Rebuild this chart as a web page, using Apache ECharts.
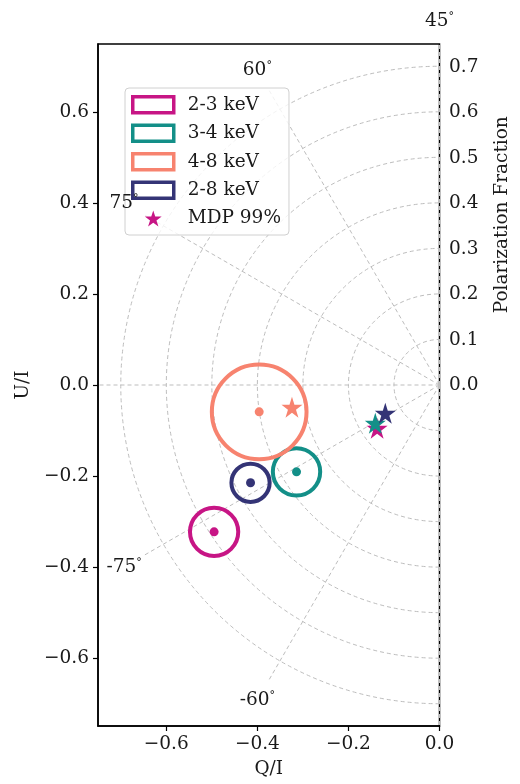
<!DOCTYPE html>
<html><head><meta charset="utf-8">
<script src="https://cdn.jsdelivr.net/npm/echarts@6/dist/echarts.min.js"></script>
<style>html,body{margin:0;padding:0;background:#fff}#c{width:520px;height:784px}</style>
</head><body><div id="c"></div>
<script>
// ---- data ----
const bandNames = ['2-3 keV', '3-4 keV', '4-8 keV', '2-8 keV'];
const bandColors = ['#c71585', '#138f88', '#f7836f', '#343476'];
const bandQ = [-0.495, -0.314, -0.396, -0.415];
const bandU = [-0.323, -0.191, -0.059, -0.215];
const bandErr = [0.053, 0.052, 0.104, 0.042];
const mdpQ = [-0.137, -0.141, -0.324, -0.119];
const mdpU = [-0.095, -0.084, -0.049, -0.062];
const pfRings = [0.1, 0.2, 0.3, 0.4, 0.5, 0.6, 0.7];
const spokeAngles = [45, 60, 75, 90, -75, -60, -45];
const angleLabels = [45, 60, 75, -75, -60];
const xTicks = [-0.6, -0.4, -0.2, 0.0];
const yTicks = [-0.6, -0.4, -0.2, 0.0, 0.2, 0.4, 0.6];
const pfTicks = [0.0, 0.1, 0.2, 0.3, 0.4, 0.5, 0.6, 0.7];

const FONT = 'DejaVu Serif';
const FS = 18.5;
const TXT = '#1a1a1a';
const GRIDC = '#bdbdbd';
const fmt = v => (Math.abs(v) < 1e-9 ? 0 : v).toFixed(1).replace('-', '\u2212');

// star path (matplotlib-like '*')
const starPts = [];
for (let i = 0; i < 10; i++) {
  const a = (-90 + 36 * i) * Math.PI / 180, rr = i % 2 ? 0.382 : 1;
  starPts.push((50 + 50 * rr * Math.cos(a)).toFixed(2) + ',' + (50 + 50 * rr * Math.sin(a)).toFixed(2));
}
const STAR = 'path://M' + starPts.join('L') + 'Z';

const chart = echarts.init(document.getElementById('c'), null, {renderer: 'canvas'});

const series = [];
// polar rings
series.push({
  type: 'custom', name: 'rings', silent: true, z: 1,
  xAxisIndex: 0, yAxisIndex: 0,
  data: pfRings.map(r => [r]),
  renderItem: (params, api) => {
    const c = api.coord([0, 0]);
    const rp = api.size([api.value(0), 0])[0];
    return {type: 'arc', shape: {cx: c[0], cy: c[1], r: rp, startAngle: Math.PI / 2, endAngle: 3 * Math.PI / 2, clockwise: true},
      style: {stroke: GRIDC, lineWidth: 1, lineDash: [4, 3], fill: null}};
  }
});
// spokes
series.push({
  type: 'custom', name: 'spokes', silent: true, z: 1,
  xAxisIndex: 0, yAxisIndex: 0,
  data: spokeAngles.map(a => [a]),
  renderItem: (params, api) => {
    const t = 2 * api.value(0) * Math.PI / 180;
    const c = api.coord([0, 0]);
    const p = api.coord([0.75 * Math.cos(t), 0.75 * Math.sin(t)]);
    return {type: 'line', shape: {x1: c[0], y1: c[1], x2: p[0], y2: p[1]},
      style: {stroke: GRIDC, lineWidth: 1, lineDash: [4, 3]}};
  }
});
// angle labels
series.push({
  type: 'custom', name: 'angles', silent: true, z: 12, clip: false,
  xAxisIndex: 0, yAxisIndex: 0,
  data: angleLabels.map(a => [a]),
  renderItem: (params, api) => {
    const a = api.value(0);
    const t = 2 * a * Math.PI / 180;
    const p = api.coord([0.8 * Math.cos(t), 0.8 * Math.sin(t)]);
    return {type: 'text', x: p[0], y: p[1],
      style: {text: '{n|' + a + '}{d|\u00b0}', align: 'center', verticalAlign: 'middle',
        rich: {n: {fontFamily: FONT, fontSize: FS, fill: TXT, color: TXT},
               d: {fontFamily: FONT, fontSize: 11, fill: TXT, color: TXT, verticalAlign: 'top'}}}};
  }
});
// error circles + centre points
bandNames.forEach((nm, i) => {
  series.push({
    type: 'custom', name: nm, z: 4,
    xAxisIndex: 0, yAxisIndex: 0,
    itemStyle: {color: bandColors[i]},
    data: [[bandQ[i], bandU[i], bandErr[i]]],
    renderItem: (params, api) => {
      const c = api.coord([api.value(0), api.value(1)]);
      const rp = api.size([api.value(2), 0])[0];
      return {type: 'group', children: [
        {type: 'circle', shape: {cx: c[0], cy: c[1], r: rp}, style: {stroke: bandColors[i], lineWidth: 4, fill: null}},
        {type: 'circle', shape: {cx: c[0], cy: c[1], r: 4.5}, style: {fill: bandColors[i], stroke: null}}
      ]};
    }
  });
});
// MDP stars
series.push({
  type: 'scatter', name: 'MDP 99%', z: 5,
  xAxisIndex: 0, yAxisIndex: 0,
  symbol: STAR, symbolSize: 21,
  itemStyle: {color: bandColors[0], opacity: 1},
  data: mdpQ.map((q, i) => ({value: [q, mdpU[i]], itemStyle: {color: bandColors[i], opacity: 1}}))
});

const option = {
  animation: false,
  backgroundColor: '#fff',
  grid: [
    {left: 98, top: 44, width: 341.5, height: 683, show: true, borderColor: '#000', borderWidth: 1.5, backgroundColor: 'transparent'},
    {left: 98, top: 44, width: 341.5, height: 341.5, show: false}
  ],
  xAxis: [
    {type: 'value', gridIndex: 0, min: -0.75, max: 0,
      name: 'Q/I', nameLocation: 'middle', nameGap: 34,
      nameTextStyle: {fontFamily: FONT, fontSize: FS, color: TXT},
      axisLine: {show: true, onZero: false, lineStyle: {color: '#000', width: 1.5}},
      axisTick: {show: true, length: 5, customValues: xTicks, lineStyle: {color: '#000', width: 1.2}},
      axisLabel: {customValues: xTicks, formatter: fmt, margin: 9, fontFamily: FONT, fontSize: FS, color: TXT},
      splitLine: {show: false}},
    {type: 'value', gridIndex: 1, min: -0.75, max: 0, show: false, axisLine: {onZero: false}}
  ],
  yAxis: [
    {type: 'value', gridIndex: 0, min: -0.75, max: 0.75,
      name: 'U/I', nameLocation: 'middle', nameGap: 64,
      nameTextStyle: {fontFamily: FONT, fontSize: FS, color: TXT},
      axisLine: {show: true, onZero: false, lineStyle: {color: '#000', width: 1.5}},
      axisTick: {show: true, length: 5, customValues: yTicks, lineStyle: {color: '#000', width: 1.2}},
      axisLabel: {customValues: yTicks, formatter: fmt, margin: 9, fontFamily: FONT, fontSize: FS, color: TXT},
      splitLine: {show: false}},
    {type: 'value', gridIndex: 1, position: 'right', min: 0, max: 0.75,
      name: 'Polarization Fraction', nameLocation: 'middle', nameGap: 56, nameRotate: 90,
      nameTextStyle: {fontFamily: FONT, fontSize: FS, color: TXT},
      axisLine: {show: false, onZero: false}, axisTick: {show: false},
      axisLabel: {customValues: pfTicks, formatter: fmt, margin: 12, fontFamily: FONT, fontSize: FS, color: TXT},
      splitLine: {show: false}}
  ],
  legend: {
    orient: 'vertical', left: 125, top: 88, z: 10,
    backgroundColor: 'rgba(255,255,255,0.8)', borderColor: '#d0d0d0', borderWidth: 1, borderRadius: 4,
    padding: [7, 8, 7, 6], itemGap: 9, itemWidth: 41, itemHeight: 16,
    textStyle: {fontFamily: FONT, fontSize: FS, color: TXT, padding: [0, 0, 0, 9]},
    selectedMode: false,
    data: bandNames.map((nm, i) => ({name: nm, icon: 'rect',
      itemStyle: {color: 'rgba(255,255,255,0)', borderColor: bandColors[i], borderWidth: 3.5, opacity: 1}}))
      .concat([{name: 'MDP 99%', icon: STAR, itemStyle: {color: bandColors[0], borderWidth: 0, opacity: 1}}])
  },
  series: series
};
chart.setOption(option);
</script>
</body></html>
